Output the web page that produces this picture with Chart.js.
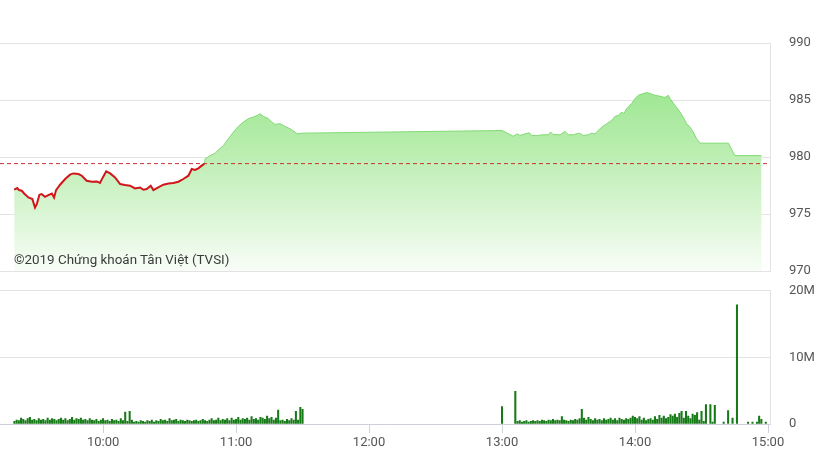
<!DOCTYPE html>
<html>
<head>
<meta charset="utf-8">
<script src="https://cdn.jsdelivr.net/npm/chart.js@4.4.1/dist/chart.umd.min.js"></script>
<style>
  html, body { margin: 0; padding: 0; background: #fff; }
  body { width: 828px; height: 465px; position: relative; overflow: hidden; font-family: Roboto, "Noto Sans", sans-serif; }
  canvas { display: block; position: absolute; left: 0; }
  #priceChart { top: 0; }
  #volChart { top: 264px; }
  #wm { position: absolute; left: 14px; top: 252px; font-size: 13.4px; color: #3c3c3c; font-family: Roboto, sans-serif; white-space: nowrap; }
</style>
</head>
<body>
<canvas id="priceChart" width="828" height="298" style="width:828px;height:298px"></canvas>
<canvas id="volChart" width="828" height="201" style="width:828px;height:201px"></canvas>
<div id="wm">©2019 Chứng khoán Tân Việt (TVSI)</div>
<script>
// ---- Data (time in minutes since midnight) ----
const priceTimes = [
  559.9,561.3,562.1,563.3,564.4,566.3,568.1,569.3,570.1,571.3,572.3,573.8,575.3,576.9,577.9,578.8,
  580.6,582.9,585.1,586.6,588.9,590.4,592.6,594.9,597.2,598.6,599.9,601.4,603.2,605.4,607.7,609.9,
  612.2,614.4,616.7,618.2,619.7,621.5,622.7,624.9,627.2,629.5,631.7,634.0,636.2,638.5,640.0,641.5,
  643.0,644.5,645.7,646.0,648.3,650.5,652.0,654.3,656.5,658.8,661.0,663.3,665.5,667.8,669.6,670.8,
  672.3,674.6,676.1,677.6,679.8,682.1,684.4,686.6,687.6,690.0,
  780.0,783.6,785.1,786.9,788.1,790.4,792.3,793.4,795.6,798.6,800.9,801.9,803.1,806.2,808.4,809.9,
  812.2,814.9,816.7,818.9,820.4,821.9,823.4,825.0,827.2,829.5,831.0,832.5,834.0,835.0,836.2,838.5,
  840.0,841.5,843.7,845.3,846.8,849.0,851.3,853.5,855.0,855.8,858.0,860.3,862.1,863.3,864.8,866.3,
  867.8,869.3,882.1,885.1,897.1
];
const priceValues = [
  977.14,977.29,977.11,977.05,976.81,976.46,976.32,975.58,975.88,976.70,976.76,976.52,976.67,976.81,976.46,977.11,
  977.58,978.08,978.46,978.57,978.52,978.37,977.93,977.84,977.87,977.73,978.22,978.75,978.57,978.22,977.64,977.55,
  977.49,977.25,977.34,977.14,977.20,977.49,977.11,977.34,977.58,977.69,977.73,977.84,978.08,978.37,978.96,978.87,
  979.01,979.25,979.40,979.84,980.13,980.33,980.63,981.01,981.60,982.19,982.69,983.07,983.37,983.51,983.66,983.81,
  983.57,983.37,983.07,982.86,982.93,982.69,982.48,982.19,982.04,982.10,
  982.33,981.98,981.83,982.04,981.89,982.04,982.13,981.89,981.89,981.96,981.96,982.19,981.98,981.96,982.25,981.96,
  981.96,982.10,981.89,981.96,982.10,982.04,982.33,982.63,982.93,983.22,983.57,983.66,983.95,983.81,984.25,984.69,
  985.13,985.42,985.57,985.66,985.57,985.42,985.33,985.22,985.42,985.13,984.54,983.95,983.37,982.93,982.63,982.19,
  981.60,981.22,981.22,980.13,980.13
];
const referencePrice = 979.43;

// Volume in millions, one bar per minute
const morningStart = 560;   // 09:20
const morningVol = [
  0.4,0.6,0.5,0.9,0.7,0.5,0.8,1.0,0.6,0.7,
  0.5,0.8,0.6,0.7,0.5,0.9,0.6,0.8,0.7,0.5,
  0.7,0.9,0.6,0.8,0.5,0.7,1.0,0.6,0.8,0.7,
  0.9,0.6,0.7,0.5,0.8,0.6,0.5,0.7,0.4,0.6,
  0.8,0.5,0.6,0.4,0.7,0.5,0.6,0.4,0.8,0.5,
  1.8,0.4,1.9,0.6,0.3,
  0.4,0.3,0.5,0.4,0.3,0.5,0.4,0.6,0.3,0.5,
  0.4,0.7,0.5,0.6,0.4,0.8,0.5,0.6,0.7,0.4,
  0.6,0.5,0.4,0.6,0.5,0.4,0.5,0.6,0.4,0.5,
  0.7,0.5,0.4,0.6,0.8,0.5,0.6,0.9,0.5,0.7,
  0.6,0.8,0.5,0.9,0.6,0.7,1.0,0.6,0.8,0.7,
  0.9,0.6,1.1,0.7,0.8,0.6,1.0,0.9,0.7,1.2,
  0.8,1.0,0.6,0.9,
  2.1,
  0.5,0.6,0.4,0.7,0.5,0.8,0.6,
  1.9,0.6,2.5,2.2
];
const afternoonStart = 780; // 13:00
const afternoonVol = [
  2.6,null,null,null,null,null,4.9,
  0.4,0.5,0.3,0.4,0.5,0.3,0.4,0.5,0.4,0.5,
  0.4,0.6,0.5,0.4,0.6,0.5,0.7,0.5,0.6,0.5,
  1.1,
  0.6,0.5,0.4,0.6,0.5,0.7,0.6,0.8,
  2.2,
  0.9,0.6,1.0,0.7,0.5,0.8,0.6,0.7,0.5,0.8,
  0.6,0.7,0.9,0.6,0.8,0.5,0.9,0.7,0.6,0.8,
  0.7,0.9,1.2,1.0,0.8,1.1,0.6,0.9,0.5,0.7,
  0.8,0.6,1.1,0.7,1.3,0.9,1.2,0.8,1.0,1.4,
  1.2,1.5,1.0,1.6,1.9,0.9,1.9,1.2,0.8,1.5,
  1.3,1.7,0.6,1.9,
  0.4,2.9,null,2.9,0.3,2.8,null,null,null,0.3,null,2.0,null,0.9,null,
  17.9,null,null,null,null,0.3,null,0.3,null,0.3,1.2,0.7,null,0.3
];
const xTickTimes = [600, 660, 720, 780, 840, 900];
const priceTicks = [970, 975, 980, 985, 990];
const volTicks = [0, 10, 20];

// ---- Build ----
const X_MIN = 553.5, X_MAX = 900.9;
const priceData = priceTimes.map((t, i) => ({ x: t, y: priceValues[i] }));
const volData = [];
morningVol.forEach((v, i) => { if (v !== null) volData.push({ x: morningStart + i, y: v }); });
afternoonVol.forEach((v, i) => { if (v !== null) volData.push({ x: afternoonStart + i, y: v }); });

const fmtTime = v => { const h = Math.floor(v / 60), m = Math.round(v % 60); return String(h).padStart(2,'0') + ':' + String(m).padStart(2,'0'); };
const tickFont = { family: 'Roboto', size: 13 };
const tickColor = '#555';
const gridColor = '#e3e3e3';
const below = ctx => ctx.p0.parsed.y < referencePrice && ctx.p1.parsed.y < referencePrice;

Chart.defaults.animation = false;

new Chart(document.getElementById('priceChart'), {
  type: 'line',
  data: {
    datasets: [
      { // area
        data: priceData,
        borderWidth: 0,
        borderColor: 'rgba(0,0,0,0)',
        pointRadius: 0,
        tension: 0,
        fill: 'start',
        backgroundColor: (ctx) => {
          const ca = ctx.chart.chartArea;
          if (!ca) return 'rgba(150,230,140,0.5)';
          const g = ctx.chart.ctx.createLinearGradient(0, ca.top, 0, ca.bottom);
          g.addColorStop(0, '#88e27c');
          g.addColorStop(0.5, '#bdeeb3');
          g.addColorStop(1, '#f8fdf7');
          return g;
        },
        order: 3
      },
      { // line
        data: priceData,
        borderWidth: 2,
        pointRadius: 0,
        tension: 0,
        fill: false,
        segment: {
          borderColor: ctx => below(ctx) ? '#d0161a' : 'rgba(120,215,105,0.9)',
          borderWidth: ctx => below(ctx) ? 2 : 1
        },
        order: 2
      },
      {
        data: [{ x: X_MIN, y: referencePrice }, { x: X_MAX, y: referencePrice }],
        borderColor: '#cc3333',
        borderWidth: 1,
        borderDash: [4, 3],
        pointRadius: 0,
        fill: false,
        order: 1
      }
    ]
  },
  options: {
    responsive: false,
    layout: { padding: { top: 43, bottom: 12, left: 0, right: 0 } },
    plugins: { legend: { display: false }, tooltip: { enabled: false } },
    scales: {
      x: { type: 'linear', min: X_MIN, max: X_MAX, display: false },
      y: {
        position: 'right',
        min: 970, max: 990,
        afterBuildTicks: s => { s.ticks = priceTicks.map(v => ({ value: v })); },
        afterFit: s => { s.width = 58; },
        grid: { color: gridColor, drawTicks: false },
        border: { display: true, color: '#dfe2e6' },
        ticks: { padding: 19, color: tickColor, font: tickFont }
      }
    }
  }
});

new Chart(document.getElementById('volChart'), {
  type: 'bar',
  data: {
    datasets: [{
      data: volData,
      backgroundColor: '#167a16',
      barThickness: 1.4,
      grouped: false
    }]
  },
  options: {
    responsive: false,
    layout: { padding: { top: 10, bottom: 0, left: 0, right: 0 } },
    plugins: { legend: { display: false }, tooltip: { enabled: false } },
    scales: {
      x: {
        type: 'linear', min: X_MIN, max: X_MAX, offset: false,
        afterBuildTicks: s => { s.ticks = xTickTimes.map(v => ({ value: v })); },
        afterFit: s => { s.height = 41; },
        grid: { offset: false, drawOnChartArea: false, drawTicks: true, tickLength: 9, color: '#cfd3d9' },
        border: { display: true, color: '#cdd1d7' },
        ticks: { padding: 2, color: tickColor, font: tickFont, maxRotation: 0, callback: v => fmtTime(v) }
      },
      y: {
        position: 'right',
        min: 0, max: 20,
        afterBuildTicks: s => { s.ticks = volTicks.map(v => ({ value: v })); },
        afterFit: s => { s.width = 58; },
        grid: { color: gridColor, drawTicks: false },
        border: { display: true, color: '#dfe2e6' },
        ticks: { padding: 19, color: tickColor, font: tickFont, callback: v => v === 0 ? '0' : v + 'M' }
      }
    }
  }
});
</script>
</body>
</html>
